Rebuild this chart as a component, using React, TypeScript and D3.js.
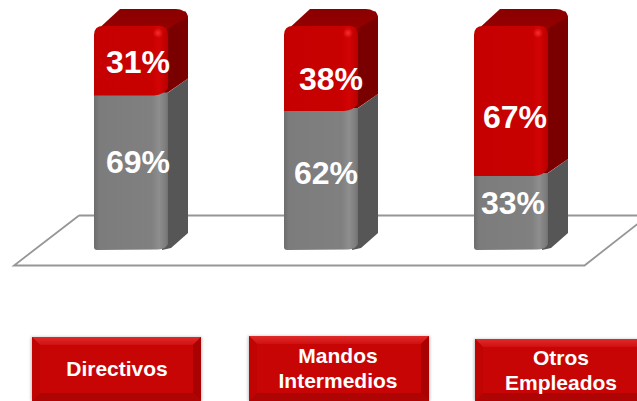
import React from "react";
import * as d3 from "d3";

const categories = ["Directivos", "Mandos Intermedios", "Otros Empleados"];
const grayValues = [69, 62, 33];
const redValues = [31, 38, 67];
const categoryLines = [["Directivos"], ["Mandos", "Intermedios"], ["Otros", "Empleados"]];

const W = 637, H = 401;
const x = d3.scaleBand<string>().domain(categories).range([94, 548]).paddingInner(116 / 190).paddingOuter(0);
const y = d3.scaleLinear().domain([0, 100]).range([250, 26]);
const depthX = 20, depthY = 17;

// label layout: offsets from the segment midpoint and bar centre
const grayDy = [0, 3, 1];
const redDy = [1, 10, 16];
const grayDx = [7, 5, 2];
const redDx = [7, 10, 4];
const buttons = [
  { x: 32, y: 337, w: 169, h: 64, tx: 117, ty: 376 },
  { x: 249, y: 336, w: 180, h: 65, tx: 338, ty: 363 },
  { x: 475, y: 339, w: 170, h: 62, tx: 561, ty: 365 },
];

export default function App() {
  const font = "'Liberation Sans', Arial, sans-serif";
  const bw = x.bandwidth();
  return (
    <svg width={W} height={H} viewBox={`0 0 ${W} ${H}`} style={{ position: "absolute", left: 0, top: 0, background: "#fff", display: "block" }}>
      <defs>
        <linearGradient id="gf" x1="0" x2="1" y1="0" y2="0">
          <stop offset="0" stopColor="#6c6c6c" />
          <stop offset="0.07" stopColor="#7c7c7c" />
          <stop offset="0.78" stopColor="#808080" />
          <stop offset="0.88" stopColor="#8e8e8e" />
          <stop offset="0.97" stopColor="#7c7c7c" />
          <stop offset="1" stopColor="#707070" />
        </linearGradient>
        <linearGradient id="rf" x1="0" x2="1" y1="0" y2="0">
          <stop offset="0" stopColor="#bc0000" />
          <stop offset="0.06" stopColor="#c60000" />
          <stop offset="0.78" stopColor="#c80000" />
          <stop offset="0.88" stopColor="#d20404" />
          <stop offset="0.97" stopColor="#c00000" />
          <stop offset="1" stopColor="#b40000" />
        </linearGradient>
        <linearGradient id="rt" x1="0" x2="0" y1="0" y2="1">
          <stop offset="0" stopColor="#8a0000" />
          <stop offset="0.75" stopColor="#940000" />
          <stop offset="1" stopColor="#c00000" />
        </linearGradient>
        <radialGradient id="spot">
          <stop offset="0" stopColor="#ff3030" stopOpacity="0.9" />
          <stop offset="1" stopColor="#ff3030" stopOpacity="0" />
        </radialGradient>
        <linearGradient id="btnTop" x1="0" x2="0" y1="0" y2="1">
          <stop offset="0" stopColor="#e02a2a" />
          <stop offset="1" stopColor="#d01010" />
        </linearGradient>
        <filter id="blur" x="-10%" y="-10%" width="120%" height="120%"><feGaussianBlur stdDeviation="1.5" /></filter>
      </defs>

      <path d="M79,215.5L14,265.5L584.5,265.5L640,222M79,215.5L637,215.5" fill="none" stroke="#969696" strokeWidth={1.8} />

      {categories.map((c, i) => {
        const x0 = x(c)!, x1 = x0 + bw;
        const yBase = y(0), ySplit = y(grayValues[i]), yTop = y(grayValues[i] + redValues[i]);
        const cx = x0 + bw / 2;
        return (
          <g key={c}>
            <path d={`M${x1 - 4},${ySplit}L${x1 + depthX},${ySplit - depthY}L${x1 + depthX},${yBase - depthY}L${x1 + 3},${yBase - 2}L${x1 - 6},${yBase}Z`} fill="#565656" />
            <path d={`M${x1 - 4},${yTop}L${x1 + depthX - 3},${yTop - depthY + 2}Q${x1 + depthX},${yTop - depthY + 5} ${x1 + depthX},${yTop - depthY + 10}L${x1 + depthX},${ySplit - depthY}L${x1 - 6},${ySplit + 1}Z`} fill="#7a0000" />
            <path d={`M${x0 + 1},${yTop + 6}L${x0 + 26},${yTop - depthY}L${x1 + depthX - 12},${yTop - depthY}Q${x1 + depthX - 3},${yTop - depthY} ${x1 + depthX},${yTop - depthY + 8}L${x1 - 3},${yTop + 4}Z`} fill="url(#rt)" />
            <path d={`M${x0},${ySplit - 3}L${x1},${ySplit - 3}L${x1},${yBase - 6}Q${x1 - 2},${yBase - 1} ${x1 - 10},${yBase - 0.5}L${x0 + 3},${yBase}Q${x0},${yBase} ${x0},${yBase - 3}Z`} fill="url(#gf)" />
            <path d={`M${x0},${yTop + 9}Q${x0},${yTop} ${x0 + 9},${yTop}L${x1 - 9},${yTop}Q${x1},${yTop} ${x1},${yTop + 9}L${x1},${ySplit - 8}Q${x1 - 4},${ySplit - 0.5} ${x1 - 14},${ySplit}L${x0},${ySplit}Z`} fill="url(#rf)" />
            <ellipse cx={x1 - 10} cy={yTop + 7} rx={5} ry={5} fill="url(#spot)" />
            <text x={cx + grayDx[i]} y={(yBase + ySplit) / 2 + grayDy[i]} textAnchor="middle" fontFamily={font} fontWeight="bold" fontSize={32} fill="#fff">{grayValues[i]}%</text>
            <text x={cx + redDx[i]} y={(ySplit + yTop) / 2 + redDy[i] + 11} textAnchor="middle" fontFamily={font} fontWeight="bold" fontSize={32} fill="#fff">{redValues[i]}%</text>
          </g>
        );
      })}

      {categories.map((c, i) => {
        const b = buttons[i];
        const s = 8;
        const xr = b.x + b.w, yb = b.y + b.h;
        return (
          <g key={c + "btn"}>
            <rect x={b.x - 1} y={b.y} width={b.w + 2} height={b.h} fill="#999" opacity={0.6} filter="url(#blur)" />
            <rect x={b.x} y={b.y} width={b.w} height={b.h} fill="#c80505" />
            <path d={`M${b.x},${b.y}L${xr},${b.y}L${xr - s},${b.y + s}L${b.x + s},${b.y + s}Z`} fill="url(#btnTop)" />
            <path d={`M${b.x},${b.y}L${b.x + s},${b.y + s}L${b.x + s},${yb - s}L${b.x},${yb}Z`} fill="#c00404" />
            <path d={`M${xr},${b.y}L${xr - s},${b.y + s}L${xr - s},${yb - s}L${xr},${yb}Z`} fill="#a80202" />
            <path d={`M${b.x},${yb}L${b.x + s},${yb - s}L${xr - s},${yb - s}L${xr},${yb}Z`} fill="#ae0404" />
            <text textAnchor="middle" fontFamily={font} fontWeight="bold" fontSize={21} fill="#fff">
              {categoryLines[i].map((t, k) => (
                <tspan key={t} x={b.tx} y={b.ty + k * 25}>{t}</tspan>
              ))}
            </text>
          </g>
        );
      })}
    </svg>
  );
}
